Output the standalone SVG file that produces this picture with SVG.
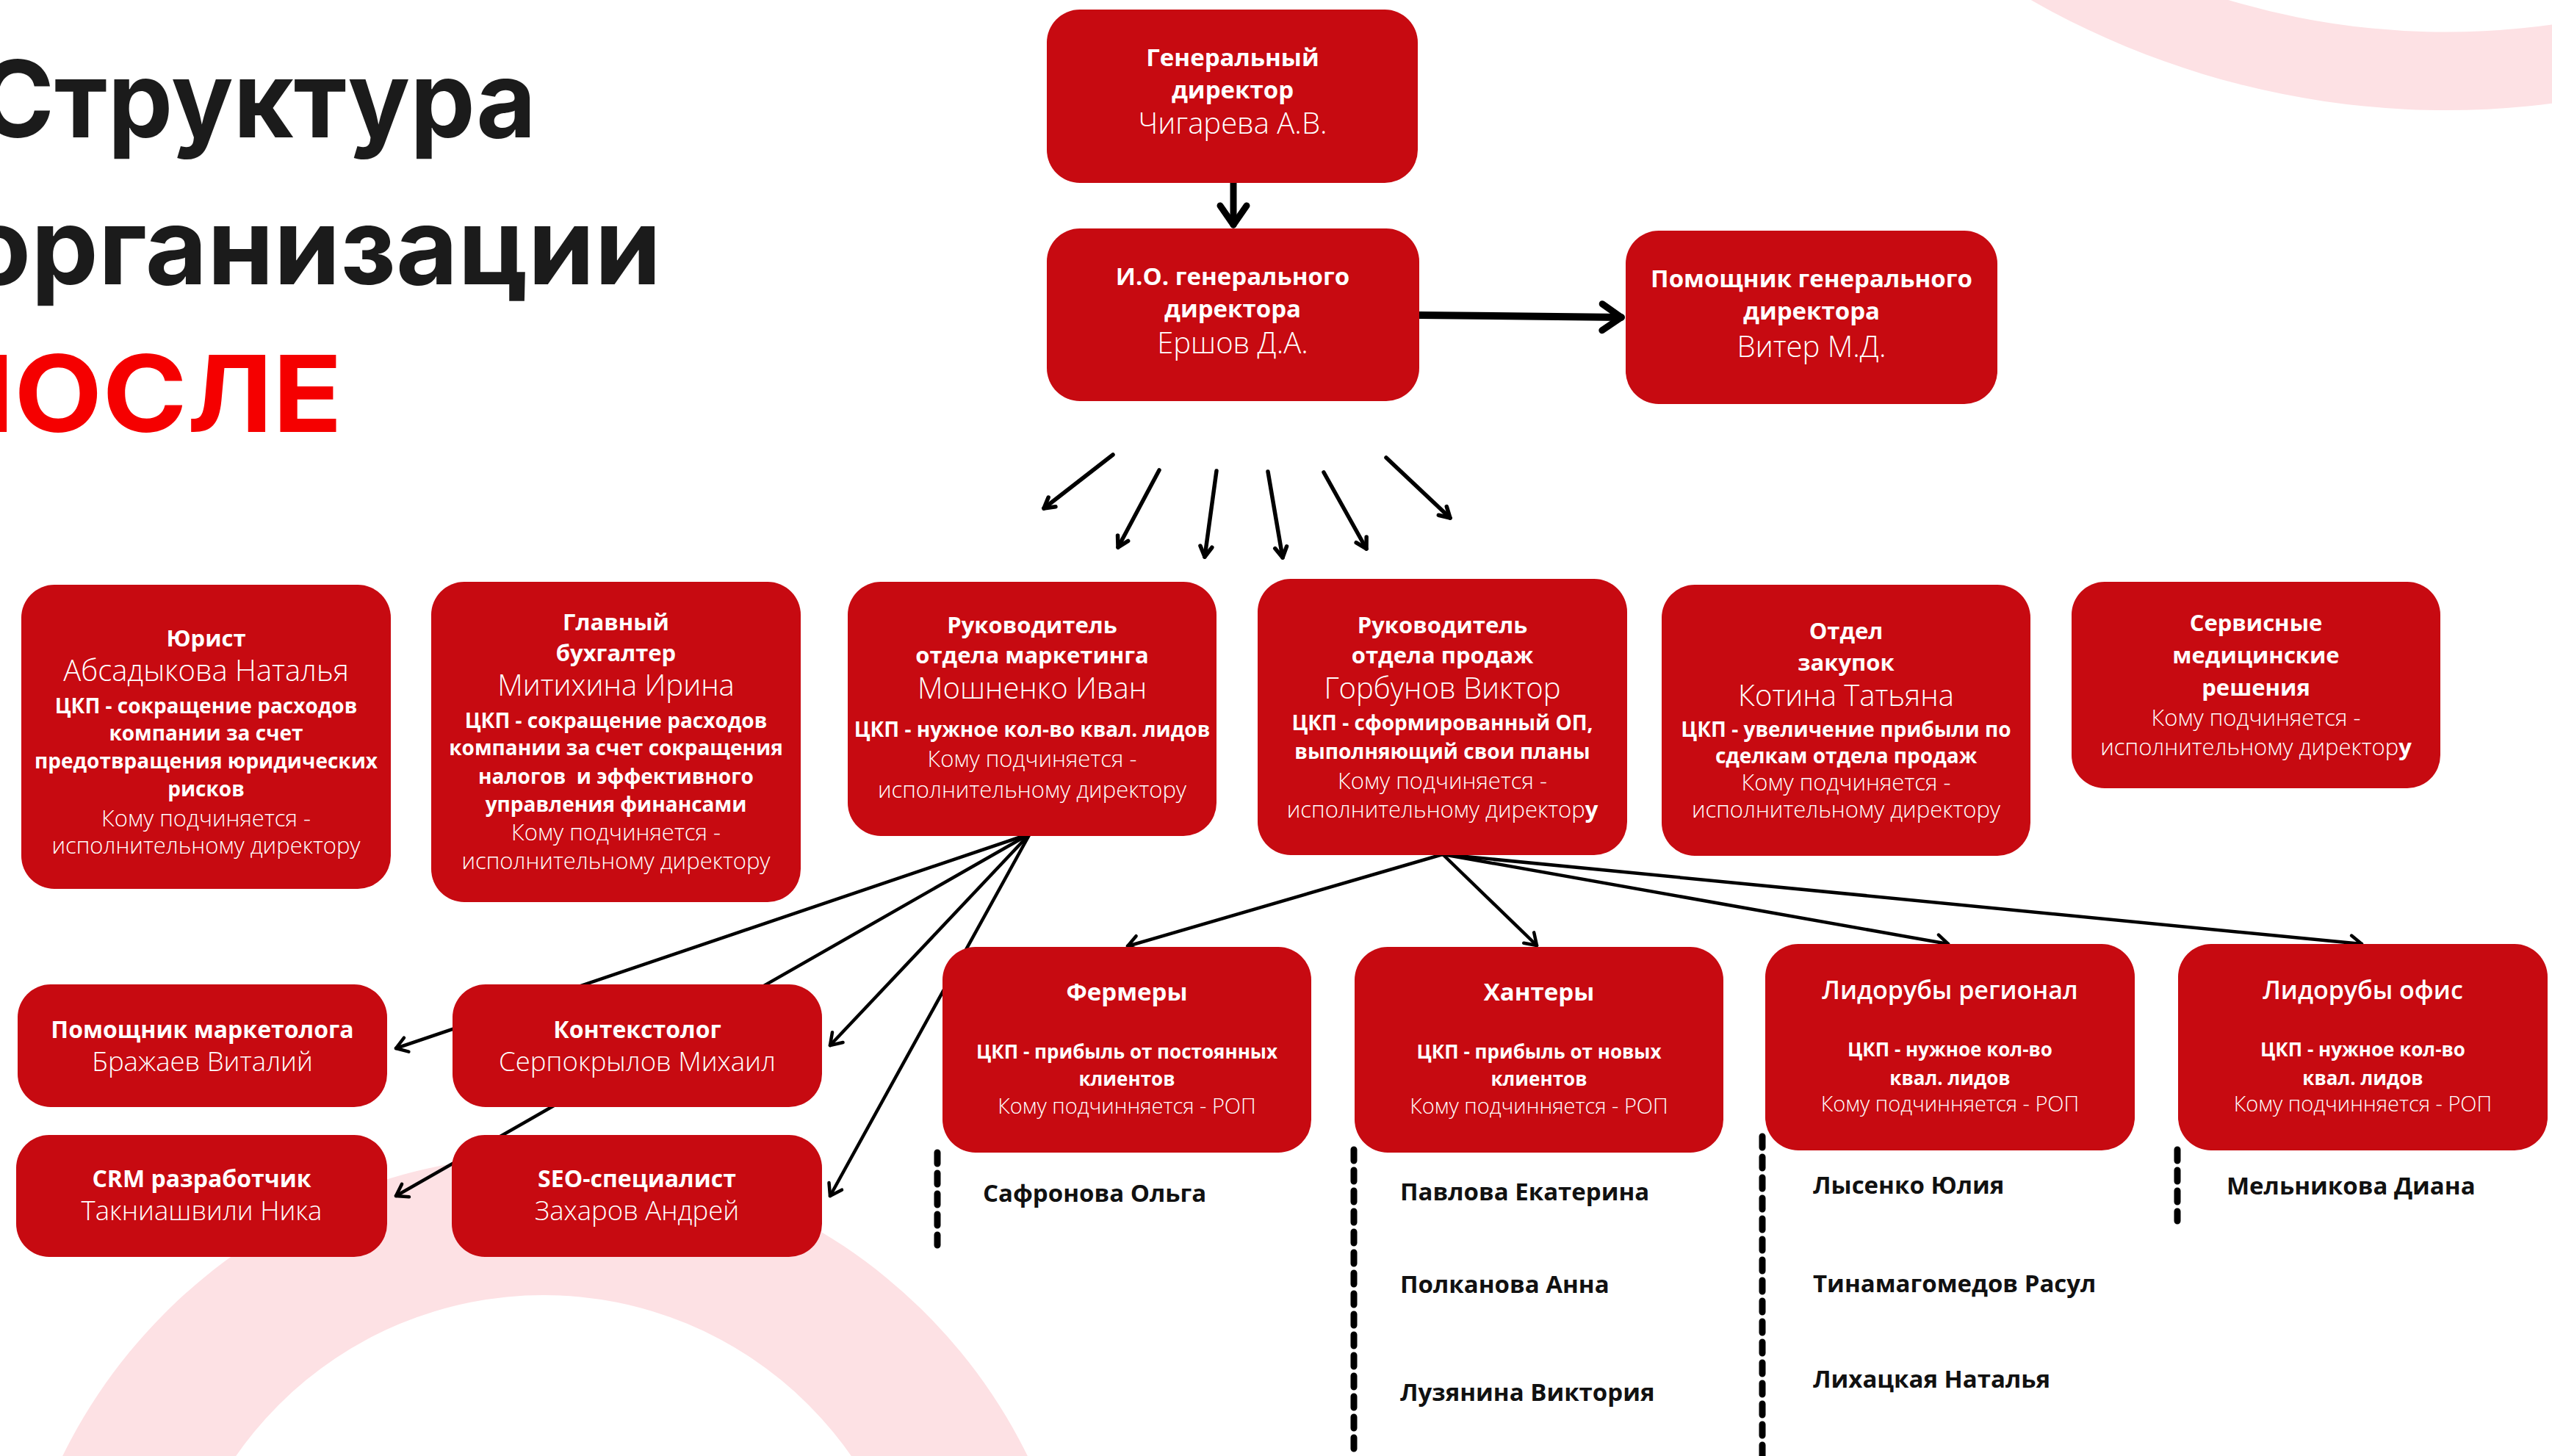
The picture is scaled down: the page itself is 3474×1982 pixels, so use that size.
<svg xmlns="http://www.w3.org/2000/svg" width="3474" height="1982" viewBox="0 0 3474 1982">
<style>
.box{fill:#c70a11}
.b{font-family:"Open Sans","DejaVu Sans",sans-serif;font-weight:700;fill:#fff;text-anchor:middle}
.l{font-family:"Open Sans","DejaVu Sans",sans-serif;font-weight:300;fill:#fff;text-anchor:middle}
.m{font-family:"Open Sans","DejaVu Sans",sans-serif;font-weight:600;fill:#fff;text-anchor:middle}
.nm{font-family:"Open Sans","DejaVu Sans",sans-serif;font-weight:700;fill:#111;font-size:33px}
.t33{font-size:33px}.t32{font-size:32px}.t31{font-size:31px}.t28{font-size:28px}.t26{font-size:26px}.t34{font-size:34px}
.n41{font-size:40px}.n40{font-size:40px}.n36{font-size:36.5px}.k31{font-size:31px}.k29{font-size:29px}
.title{font-family:Inter,"Open Sans",sans-serif;font-weight:700;font-size:145px}
.conn line{stroke:#000;fill:none;stroke-linecap:round}
.thin{stroke-width:4.5}
.fan{stroke-width:5.5}
.dash{stroke:#000;stroke-width:9;stroke-dasharray:15 13;fill:none}
</style>
<defs>
<marker id="ah" markerUnits="userSpaceOnUse" markerWidth="40" markerHeight="40" viewBox="-20 -20 40 40" refX="0" refY="0" orient="auto" overflow="visible">
<path d="M-15,-10 L0,0 L-15,10" fill="none" stroke="#000" stroke-width="4.5" stroke-linecap="round" stroke-linejoin="round"/>
</marker>
<marker id="ahf" markerUnits="userSpaceOnUse" markerWidth="40" markerHeight="40" viewBox="-20 -20 40 40" refX="0" refY="0" orient="auto" overflow="visible">
<path d="M-14,-8 L0,0 L-14,8" fill="none" stroke="#000" stroke-width="5.5" stroke-linecap="round" stroke-linejoin="round"/>
</marker>
<marker id="ahb" markerUnits="userSpaceOnUse" markerWidth="80" markerHeight="80" viewBox="-40 -40 80 80" refX="0" refY="0" orient="auto" overflow="visible">
<path d="M-26,-18 L0,0 L-26,18" fill="none" stroke="#000" stroke-width="9" stroke-linecap="round" stroke-linejoin="round"/>
</marker>
</defs>
<rect width="3474" height="1982" fill="#fff"/>
<g id="background">
<path d="M2190,-990 a1140,1140 0 1,0 2280,0 a1140,1140 0 1,0 -2280,0 Z M2297,-990 a1033,1033 0 1,0 2066,0 a1033,1033 0 1,0 -2066,0 Z" fill="#fde1e4" fill-rule="evenodd"/>
<path d="M10,2305 a732,732 0 1,0 1464,0 a732,732 0 1,0 -1464,0 Z M230,2273 a510,510 0 1,0 1020,0 a510,510 0 1,0 -1020,0 Z" fill="#fde1e4" fill-rule="evenodd"/>
</g>
<g id="title">
<text class="title" x="-30" y="187" textLength="760" lengthAdjust="spacingAndGlyphs" fill="#1b1b1b">Структура</text>
<text class="title" x="-47" y="387" textLength="947" lengthAdjust="spacingAndGlyphs" fill="#1b1b1b">организации</text>
<text class="title" x="-97" y="588" textLength="563" lengthAdjust="spacingAndGlyphs" fill="#f50000">ПОСЛЕ</text>
</g>
<g id="connectors" class="conn">
<line x1="1679" y1="249" x2="1679" y2="306" stroke-width="9" marker-end="url(#ahb)"/>
<line x1="1932" y1="429" x2="2207" y2="432" stroke-width="10" marker-end="url(#ahb)"/>
<line class="fan" x1="1515" y1="619" x2="1421" y2="692" marker-end="url(#ahf)"/>
<line class="fan" x1="1578" y1="640" x2="1522" y2="745" marker-end="url(#ahf)"/>
<line class="fan" x1="1656" y1="641" x2="1640" y2="758" marker-end="url(#ahf)"/>
<line class="fan" x1="1726" y1="642" x2="1746" y2="759" marker-end="url(#ahf)"/>
<line class="fan" x1="1802" y1="643" x2="1860" y2="747" marker-end="url(#ahf)"/>
<line class="fan" x1="1887" y1="623" x2="1974" y2="705" marker-end="url(#ahf)"/>
<line class="thin" x1="1402" y1="1135" x2="539" y2="1427" marker-end="url(#ah)"/>
<line class="thin" x1="1402" y1="1135" x2="539" y2="1628" marker-end="url(#ah)"/>
<line class="thin" x1="1402" y1="1135" x2="1130" y2="1423" marker-end="url(#ah)"/>
<line class="thin" x1="1402" y1="1135" x2="1130" y2="1628" marker-end="url(#ah)"/>
<line class="thin" x1="1964" y1="1163" x2="1535" y2="1288" marker-end="url(#ah)"/>
<line class="thin" x1="1964" y1="1163" x2="2092" y2="1287" marker-end="url(#ah)"/>
<line class="thin" x1="1964" y1="1163" x2="2652" y2="1285" marker-end="url(#ah)"/>
<line class="thin" x1="1964" y1="1163" x2="3215" y2="1285" marker-end="url(#ah)"/>
<line class="dash" x1="1276" y1="1569" x2="1276" y2="1695"/>
<line class="dash" x1="1843" y1="1565" x2="1843" y2="1982"/>
<line class="dash" x1="2399" y1="1547" x2="2399" y2="1982"/>
<line class="dash" x1="2964" y1="1565" x2="2964" y2="1662"/>
</g>
<g id="gen-director">
<rect class="box" x="1425" y="13" width="505" height="236" rx="45"/>
<text class="b t33" x="1678" y="90">Генеральный</text>
<text class="b t33" x="1678" y="134">директор</text>
<text class="l n41" x="1678" y="182">Чигарева А.В.</text>
</g>
<g id="acting-director">
<rect class="box" x="1425" y="311" width="507" height="235" rx="45"/>
<text class="b t33" x="1678" y="388">И.О. генерального</text>
<text class="b t33" x="1678" y="432">директора</text>
<text class="l n41" x="1678" y="481">Ершов Д.А.</text>
</g>
<g id="assistant-director">
<rect class="box" x="2213" y="314" width="506" height="236" rx="45"/>
<text class="b t33" x="2466" y="391">Помощник генерального</text>
<text class="b t33" x="2466" y="435">директора</text>
<text class="l n41" x="2466" y="486">Витер М.Д.</text>
</g>
<g id="lawyer">
<rect class="box" x="29" y="796" width="503" height="414" rx="45"/>
<text class="b t31" x="280.5" y="880">Юрист</text>
<text class="l n40" x="280.5" y="927">Абсадыкова Наталья</text>
<text class="b t28" x="280.5" y="971">ЦКП - сокращение расходов</text>
<text class="b t28" x="280.5" y="1008">компании за счет</text>
<text class="b t28" x="280.5" y="1046">предотвращения юридических</text>
<text class="b t28" x="280.5" y="1084">рисков</text>
<text class="l k31" x="280.5" y="1125">Кому подчиняется -</text>
<text class="l k31" x="280.5" y="1162">исполнительному директору</text>
</g>
<g id="accountant">
<rect class="box" x="587" y="792" width="503" height="436" rx="45"/>
<text class="b t31" x="838.5" y="858">Главный</text>
<text class="b t31" x="838.5" y="900">бухгалтер</text>
<text class="l n40" x="838.5" y="947">Митихина Ирина</text>
<text class="b t28" x="838.5" y="991">ЦКП - сокращение расходов</text>
<text class="b t28" x="838.5" y="1028">компании за счет сокращения</text>
<text class="b t28" x="838.5" y="1067" xml:space="preserve">налогов  и эффективного</text>
<text class="b t28" x="838.5" y="1105">управления финансами</text>
<text class="l k31" x="838.5" y="1144">Кому подчиняется -</text>
<text class="l k31" x="838.5" y="1183">исполнительному директору</text>
</g>
<g id="marketing-head">
<rect class="box" x="1154" y="792" width="502" height="346" rx="45"/>
<text class="b t31" x="1405" y="862">Руководитель</text>
<text class="b t31" x="1405" y="903">отдела маркетинга</text>
<text class="l n40" x="1405" y="951">Мошненко Иван</text>
<text class="b t28" x="1405" y="1003">ЦКП - нужное кол-во квал. лидов</text>
<text class="l k31" x="1405" y="1044">Кому подчиняется -</text>
<text class="l k31" x="1405" y="1086">исполнительному директору</text>
</g>
<g id="sales-head">
<rect class="box" x="1712" y="788" width="503" height="376" rx="45"/>
<text class="b t31" x="1963.5" y="862">Руководитель</text>
<text class="b t31" x="1963.5" y="903">отдела продаж</text>
<text class="l n40" x="1963.5" y="951">Горбунов Виктор</text>
<text class="b t28" x="1963.5" y="994">ЦКП - сформированный ОП,</text>
<text class="b t28" x="1963.5" y="1033">выполняющий свои планы</text>
<text class="l k31" x="1963.5" y="1074">Кому подчиняется -</text>
<text class="l k31" x="1963.5" y="1113">исполнительному директор<tspan font-weight="700">у</tspan></text>
</g>
<g id="purchasing">
<rect class="box" x="2262" y="796" width="502" height="369" rx="45"/>
<text class="b t31" x="2513" y="870">Отдел</text>
<text class="b t31" x="2513" y="913">закупок</text>
<text class="l n40" x="2513" y="961">Котина Татьяна</text>
<text class="b t28" x="2513" y="1003">ЦКП - увеличение прибыли по</text>
<text class="b t28" x="2513" y="1039">сделкам отдела продаж</text>
<text class="l k31" x="2513" y="1076">Кому подчиняется -</text>
<text class="l k31" x="2513" y="1113">исполнительному директору</text>
</g>
<g id="medical-services">
<rect class="box" x="2820" y="792" width="502" height="281" rx="45"/>
<text class="b t31" x="3071" y="859">Сервисные</text>
<text class="b t31" x="3071" y="903">медицинские</text>
<text class="b t31" x="3071" y="947">решения</text>
<text class="l k31" x="3071" y="988">Кому подчиняется -</text>
<text class="l k31" x="3071" y="1028">исполнительному директор<tspan font-weight="700">у</tspan></text>
</g>
<g id="marketing-assistant">
<rect class="box" x="24" y="1340" width="503" height="167" rx="45"/>
<text class="b t32" x="275.5" y="1413">Помощник маркетолога</text>
<text class="l n36" x="275.5" y="1458">Бражаев Виталий</text>
</g>
<g id="context-specialist">
<rect class="box" x="616" y="1340" width="503" height="167" rx="45"/>
<text class="b t32" x="867.5" y="1413">Контекстолог</text>
<text class="l n36" x="867.5" y="1458">Серпокрылов Михаил</text>
</g>
<g id="crm-developer">
<rect class="box" x="22" y="1545" width="505" height="166" rx="45"/>
<text class="b t32" x="274.5" y="1616">CRM разработчик</text>
<text class="l n36" x="274.5" y="1661">Такниашвили Ника</text>
</g>
<g id="seo-specialist">
<rect class="box" x="615" y="1545" width="504" height="166" rx="45"/>
<text class="b t32" x="867" y="1616">SEO-специалист</text>
<text class="l n36" x="867" y="1661">Захаров Андрей</text>
</g>
<g id="farmers">
<rect class="box" x="1283" y="1289" width="502" height="280" rx="45"/>
<text class="b t33" x="1534" y="1362">Фермеры</text>
<text class="b t26" x="1534" y="1441">ЦКП - прибыль от постоянных</text>
<text class="b t26" x="1534" y="1478">клиентов</text>
<text class="l k29" x="1534" y="1516">Кому подчинняется - РОП</text>
</g>
<g id="hunters">
<rect class="box" x="1844" y="1289" width="502" height="280" rx="45"/>
<text class="b t33" x="2095" y="1362">Хантеры</text>
<text class="b t26" x="2095" y="1441">ЦКП - прибыль от новых</text>
<text class="b t26" x="2095" y="1478">клиентов</text>
<text class="l k29" x="2095" y="1516">Кому подчинняется - РОП</text>
</g>
<g id="leads-regional">
<rect class="box" x="2403" y="1285" width="503" height="281" rx="45"/>
<text class="m t34" x="2654.5" y="1360">Лидорубы регионал</text>
<text class="b t26" x="2654.5" y="1438">ЦКП - нужное кол-во</text>
<text class="b t26" x="2654.5" y="1477">квал. лидов</text>
<text class="l k29" x="2654.5" y="1513">Кому подчинняется - РОП</text>
</g>
<g id="leads-office">
<rect class="box" x="2965" y="1285" width="503" height="281" rx="45"/>
<text class="m t34" x="3216.5" y="1360">Лидорубы офис</text>
<text class="b t26" x="3216.5" y="1438">ЦКП - нужное кол-во</text>
<text class="b t26" x="3216.5" y="1477">квал. лидов</text>
<text class="l k29" x="3216.5" y="1513">Кому подчинняется - РОП</text>
</g>
<g id="staff-names">
<text class="nm" x="1338" y="1636">Сафронова Ольга</text>
<text class="nm" x="1906" y="1634">Павлова Екатерина</text>
<text class="nm" x="1906" y="1760">Полканова Анна</text>
<text class="nm" x="1906" y="1907">Лузянина Виктория</text>
<text class="nm" x="2468" y="1625">Лысенко Юлия</text>
<text class="nm" x="2468" y="1759">Тинамагомедов Расул</text>
<text class="nm" x="2468" y="1889">Лихацкая Наталья</text>
<text class="nm" x="3031" y="1626">Мельникова Диана</text>
</g>
</svg>
